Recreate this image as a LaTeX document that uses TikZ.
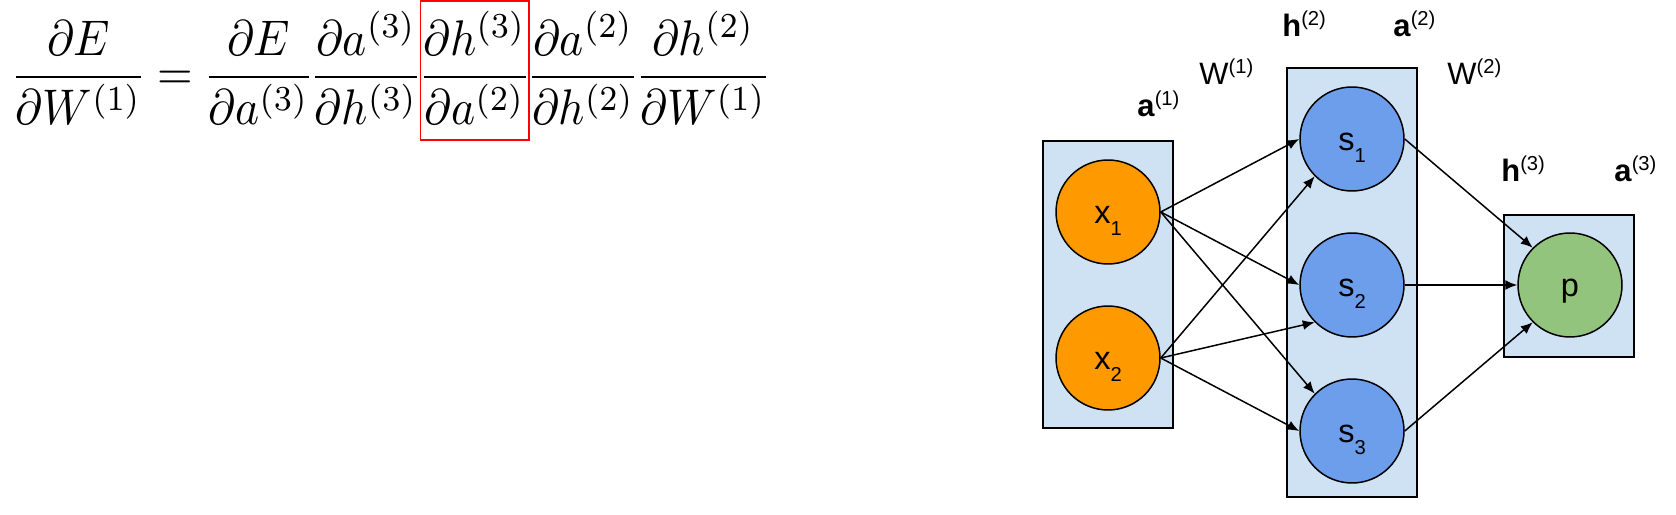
\documentclass[tikz,border=0pt]{standalone}
\usepackage{fontspec}
\newfontfamily\arial{Liberation Sans}
\usetikzlibrary{arrows.meta}

\definecolor{layerblue}{HTML}{CFE2F3}
\definecolor{inorange}{HTML}{FF9900}
\definecolor{hidblue}{HTML}{6D9EEB}
\definecolor{outgreen}{HTML}{93C47D}

% small raised / lowered indices for the network labels
\newcommand{\lsub}[1]{\raisebox{-6.8pt}{\fontsize{11.5}{12}\selectfont #1}}
\newcommand{\lsup}[1]{\raisebox{6.4pt}{\fontsize{11.5}{12}\selectfont #1}}

\setlength{\nulldelimiterspace}{0.7pt}

\tikzset{
  layer/.style={draw, line width=1.1pt, fill=layerblue},
  unit/.style={circle, draw, line width=0.85pt, minimum size=2.08cm, inner sep=0pt,
    font=\arial\fontsize{18.5}{20}\selectfont, text height=12.6pt, text depth=0pt},
  link/.style={-{Latex[length=6.8pt,width=5.6pt]}, line width=0.85pt},
  tag/.style={anchor=base west, inner sep=0pt, font=\arial\fontsize{17.6}{20}\selectfont},
  frac/.style={anchor=base west, inner sep=0pt, outer sep=0pt, xscale=2.6, yscale=2.85},
  redbox/.style={draw=red, line width=0.8pt}
}

\begin{document}
\begin{tikzpicture}[x=0.02cm, y=0.02cm]
    \useasboundingbox (0,0) rectangle (1676,514);

    % Draw the chain rule
    \node[frac] (lhs) at (12.8,424.5) {$\displaystyle\frac{\partial E}{\partial W^{(1)}}={}$};
    \node[frac] (t1) at (lhs.base east) {$\displaystyle\frac{\partial E}{\partial a^{(3)}}$};
    \node[frac] (t2) at (t1.base east) {$\displaystyle\frac{\partial a^{(3)}}{\partial h^{(3)}}$};
    \node[frac] (t3) at (t2.base east) {$\displaystyle\frac{\partial h^{(3)}}{\partial a^{(2)}}$};
    \node[frac] (t4) at (t3.base east) {$\displaystyle\frac{\partial a^{(2)}}{\partial h^{(2)}}$};
    \node[frac] (t5) at (t4.base east) {$\displaystyle\frac{\partial h^{(2)}}{\partial W^{(1)}}$};

    % Mark the third factor
    \coordinate (redtop) at (0,513);
    \coordinate (redbot) at (0,374);
    \draw[redbox] (t3.west |- redbot) rectangle (t3.east |- redtop);

    % Draw the layer boxes
    \draw[layer] (1043,86) rectangle (1173,373);
    \draw[layer] (1287,17) rectangle (1417,446);
    \draw[layer] (1504,157) rectangle (1634,299);

    % Draw the units
    \node[unit, fill=inorange] (x1) at (1108,302) {x\lsub{1}};
    \node[unit, fill=inorange] (x2) at (1108,156) {x\lsub{2}};
    \node[unit, fill=hidblue] (s1) at (1352,375) {s\lsub{1}};
    \node[unit, fill=hidblue] (s2) at (1352,229) {s\lsub{2}};
    \node[unit, fill=hidblue] (s3) at (1352,83) {s\lsub{3}};
    \node[unit, fill=outgreen] (p) at (1570,229) {p};

    % Draw the weights
    \draw[link] (x1.east) -- (s1.west);
    \draw[link] (x1.east) -- (s2.west);
    \draw[link] (x1.east) -- (s3.north west);
    \draw[link] (x2.east) -- (s1.south west);
    \draw[link] (x2.east) -- (s2.south west);
    \draw[link] (x2.east) -- (s3.west);
    \draw[link] (s1.east) -- (p.north west);
    \draw[link] (s2.east) -- (p.west);
    \draw[link] (s3.east) -- (p.south west);

    % Draw the layer labels
    \node[tag] (a1) at (1137,397) {\textbf{a}\lsup{(1)}};
    \node[tag] (w1) at (1199,429) {W\lsup{(1)}};
    \node[tag] (h2) at (1282,477) {\textbf{h}\lsup{(2)}};
    \node[tag] (a2) at (1393,477) {\textbf{a}\lsup{(2)}};
    \node[tag] (w2) at (1447,429) {W\lsup{(2)}};
    \node[tag] (h3) at (1501,332) {\textbf{h}\lsup{(3)}};
    \node[tag] (a3) at (1614,332) {\textbf{a}\lsup{(3)}};
\end{tikzpicture}
\end{document}
